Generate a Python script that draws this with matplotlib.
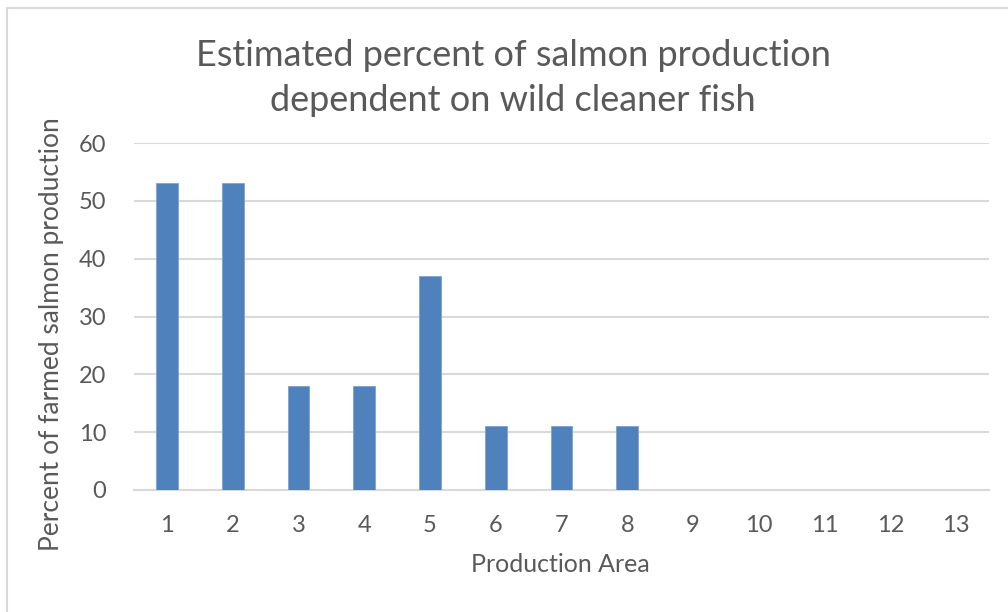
import matplotlib
matplotlib.use("Agg")
import matplotlib.pyplot as plt
from matplotlib.lines import Line2D

areas = [str(i) for i in range(1, 14)]
percent = [53, 53, 18, 18, 37, 11, 11, 11, 0, 0, 0, 0, 0]
yticks = [0, 10, 20, 30, 40, 50, 60]

title = "Estimated percent of salmon production\ndependent on wild cleaner fish"
xlabel = "Production Area"
ylabel = "Percent of farmed salmon production"

plt.rcParams['font.family'] = ['Lato', 'DejaVu Sans']
text_color = "#595959"
grid_color = "#d9d9d9"
bar_color = "#4f81bd"

W, H = 1008, 612
fig = plt.figure(figsize=(W / 100, H / 100), dpi=100)
ax = fig.add_axes([134 / W, 1 - 490 / H, (989 - 134) / W, (490 - 143) / H])

x = list(range(len(areas)))
ax.bar(x, percent, width=0.33, color=bar_color, edgecolor="#7ea3d1", linewidth=0.6, zorder=3)

ax.set_xlim(-0.5, len(areas) - 0.5)
ax.set_ylim(0, 60)
ax.set_yticks(yticks)
ax.set_xticks(x)
ax.set_xticklabels(areas)
ax.yaxis.grid(True, color=grid_color, linewidth=1.5, zorder=0)
ax.set_axisbelow(True)
for s in ["top", "right", "left"]:
    ax.spines[s].set_visible(False)
ax.spines["bottom"].set_color(grid_color)
ax.spines["bottom"].set_linewidth(1.5)
ax.tick_params(axis="both", length=0, colors=text_color, labelsize=17)
ax.tick_params(axis="y", pad=20)
ax.tick_params(axis="x", pad=18)

fig.text(560 / W, 1 - 565 / H, xlabel, ha="center", va="center", color=text_color, fontsize=18)
fig.text(52 / W, 1 - 334 / H, ylabel, ha="center", va="center", rotation=90,
         color=text_color, fontsize=19)

fig.text(513 / W, 1 - 78 / H, title, ha="center", va="center", color=text_color,
         fontsize=26, linespacing=1.42)

# chart frame (top and left edges visible)
fig.add_artist(Line2D([7 / W, 1.0], [1 - 8 / H, 1 - 8 / H], color="#d9d9d9", linewidth=1.5))
fig.add_artist(Line2D([7 / W, 7 / W], [1 - 8 / H, 0.0], color="#d9d9d9", linewidth=1.5))

fig.savefig("out.png", dpi=100, facecolor="white")
